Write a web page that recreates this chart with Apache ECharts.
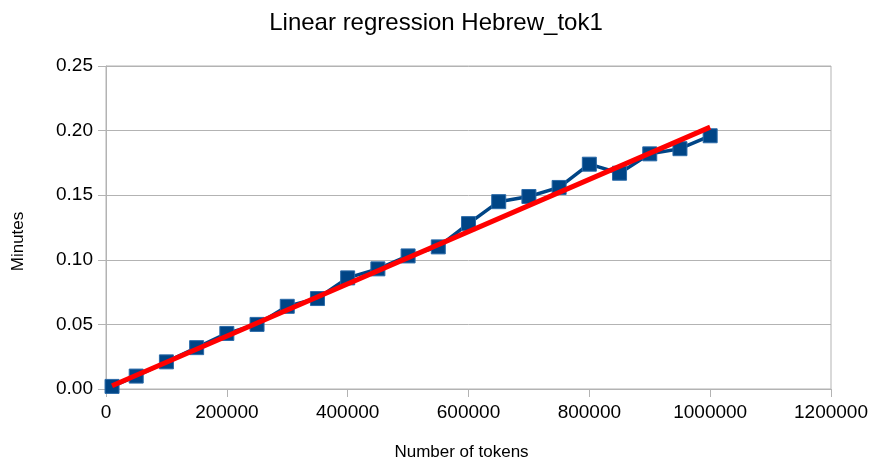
<!DOCTYPE html>
<html><head><meta charset="utf-8">
<script src="https://cdn.jsdelivr.net/npm/echarts@6/dist/echarts.min.js"></script>
<style>html,body{margin:0;padding:0;background:#fff}#c{width:872px;height:466px}</style>
</head><body><div id="c"></div>
<script>
const tokens = [10000,50000,100000,150000,200000,250000,300000,350000,400000,450000,500000,550000,600000,650000,700000,750000,800000,850000,900000,950000,1000000];
const minutes = [0.002,0.010,0.021,0.032,0.043,0.050,0.064,0.070,0.086,0.093,0.103,0.110,0.128,0.145,0.149,0.156,0.174,0.167,0.182,0.186,0.196];
const fitX = [10000, 1000000];
const fitY = [0.0025, 0.2027];
const titleText = 'Linear regression Hebrew_tok1';
const xName = 'Number of tokens';
const yName = 'Minutes';

const chart = echarts.init(document.getElementById('c'));
const font = '"Liberation Sans", Arial, sans-serif';
chart.setOption({
  animation: false,
  backgroundColor: '#fff',
  title: { text: titleText, left: 'center', top: 6, padding: [5, 15, 5, 5],
    textStyle: { fontFamily: font, fontSize: 24, fontWeight: 'normal', color: '#000' } },
  grid: { left: 106, right: 41, top: 66, bottom: 76, show: true, borderColor: '#b3b3b3', borderWidth: 1 },
  xAxis: {
    type: 'value', min: 0, max: 1200000, interval: 200000,
    name: xName, nameLocation: 'middle', nameGap: 55,
    nameTextStyle: { fontFamily: font, fontSize: 17, color: '#000', padding: [0, 14, 0, 0] },
    axisLine: { show: true, lineStyle: { color: '#b3b3b3' } },
    axisTick: { show: true, length: 8, lineStyle: { color: '#b3b3b3' } },
    splitLine: { show: false },
    axisLabel: { fontFamily: font, fontSize: 19, color: '#000', margin: 14, formatter: v => String(v) }
  },
  yAxis: {
    type: 'value', min: 0, max: 0.25, interval: 0.05,
    name: yName, nameLocation: 'middle', nameGap: 79, nameRotate: 90,
    nameTextStyle: { fontFamily: font, fontSize: 17, color: '#000', padding: [0, 28, 0, 0] },
    axisLine: { show: true, lineStyle: { color: '#b3b3b3' } },
    axisTick: { show: true, length: 8, lineStyle: { color: '#b3b3b3' } },
    splitLine: { show: true, lineStyle: { color: '#b3b3b3' } },
    axisLabel: { fontFamily: font, fontSize: 19, color: '#000', margin: 13, formatter: v => v.toFixed(2) }
  },
  series: [
    {
      type: 'line',
      data: tokens.map((t, i) => [t, minutes[i]]),
      symbol: 'rect', symbolSize: 14,
      lineStyle: { color: '#004586', width: 3.5 },
      itemStyle: { color: '#004586', borderColor: '#2a6aa8', borderWidth: 1 },
      z: 2
    },
    {
      type: 'line',
      data: fitX.map((t, i) => [t, fitY[i]]),
      symbol: 'none',
      lineStyle: { color: '#ff0000', width: 5 },
      z: 3
    }
  ]
});
</script></body></html>
